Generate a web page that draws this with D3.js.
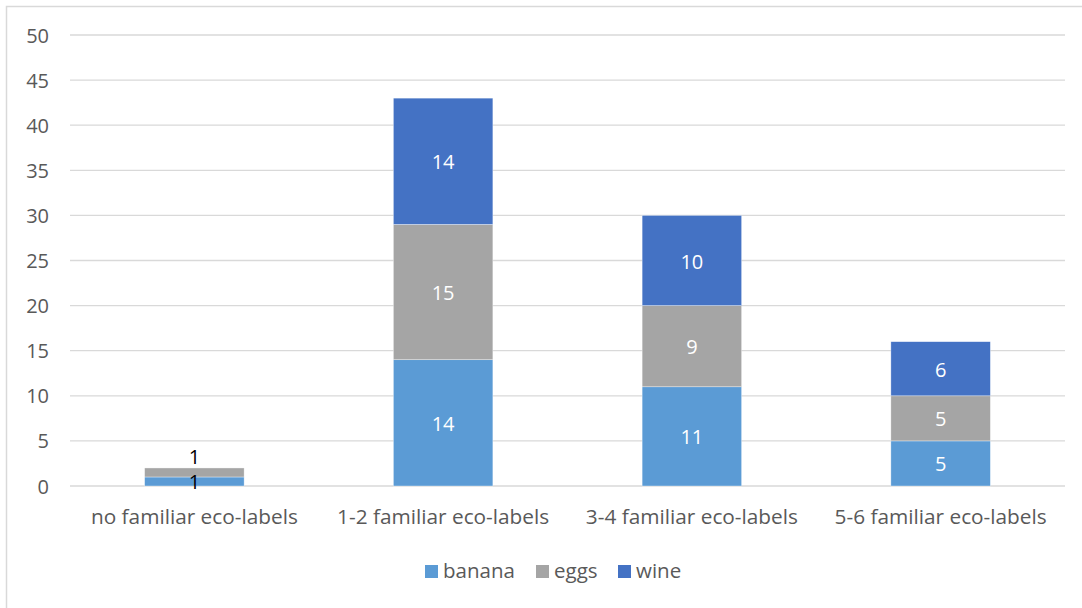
<!DOCTYPE html>
<html>
<head>
<meta charset="utf-8">
<script src="https://cdn.jsdelivr.net/npm/d3@7"></script>
<style>
  html, body { margin: 0; padding: 0; background: #fff; }
  svg { display: block; font-family: "Open Sans", "Noto Sans", sans-serif; }
</style>
</head>
<body>
<svg id="chart" width="1082" height="608"></svg>
<script>
// Familiar eco-labels by product
const categories = ["no familiar eco-labels", "1-2 familiar eco-labels", "3-4 familiar eco-labels", "5-6 familiar eco-labels"];
const seriesNames = ["banana", "eggs", "wine"];
const banana = [1, 14, 11, 5];
const eggs = [1, 15, 9, 5];
const wine = [0, 14, 10, 6];
const yTicks = [0, 5, 10, 15, 20, 25, 30, 35, 40, 45, 50];
const colors = ["#5B9BD5", "#A5A5A5", "#4472C4"];

const svg = d3.select("#chart");
const W = 1082, H = 608;
const plot = { left: 70, right: 1065, top: 35, bottom: 486 };

// Outer chart frame
svg.append("rect")
  .attr("x", 6.5).attr("y", 6.5)
  .attr("width", W + 10).attr("height", H + 10)
  .attr("fill", "#fff").attr("stroke", "#d9d9d9").attr("stroke-width", 1.5);

const rows = categories.map((c, i) => ({ cat: c, banana: banana[i], eggs: eggs[i], wine: wine[i] }));
const stacked = d3.stack().keys(seriesNames)(rows);

const x = d3.scaleBand().domain(categories).range([plot.left, plot.right]).padding(0);
const y = d3.scaleLinear().domain([0, 50]).range([plot.bottom, plot.top]);
const barW = x.bandwidth() * 0.4;

// Gridlines
svg.append("g").selectAll("line").data(yTicks).join("line")
  .attr("x1", plot.left).attr("x2", plot.right)
  .attr("y1", d => y(d)).attr("y2", d => y(d))
  .attr("stroke", "#d9d9d9").attr("stroke-width", 1.3);

// Y axis labels
const yAxis = d3.axisLeft(y).tickValues(yTicks).tickSize(0).tickPadding(0);
const yg = svg.append("g").attr("transform", `translate(${plot.left - 21},0)`).call(yAxis);
yg.select(".domain").remove();
yg.selectAll("text").attr("font-size", 20).attr("fill", "#595959")
  .attr("font-family", "'Open Sans', sans-serif").attr("dy", "0.35em");

// X axis labels
const xAxis = d3.axisBottom(x).tickSize(0).tickPadding(0);
const xg = svg.append("g").attr("transform", `translate(0,${plot.bottom + 31})`).call(xAxis);
xg.select(".domain").remove();
xg.selectAll("text").attr("font-size", 20.8).attr("fill", "#595959")
  .attr("font-family", "'Open Sans', sans-serif").attr("dy", "0.35em");

// Stacked bars
const layers = svg.append("g").selectAll("g").data(stacked).join("g")
  .attr("fill", (d, i) => colors[i]);
layers.selectAll("rect").data(d => d).join("rect")
  .attr("x", d => x(d.data.cat) + (x.bandwidth() - barW) / 2)
  .attr("width", barW)
  .attr("y", d => y(d[1]))
  .attr("height", d => y(d[0]) - y(d[1]))
  .attr("stroke", "#fff").attr("stroke-width", 0.6).attr("stroke-opacity", 0.6);

// Data labels
const labelG = svg.append("g").attr("font-size", 20).attr("text-anchor", "middle")
  .attr("font-family", "'Open Sans', sans-serif");
stacked.forEach((layer, si) => {
  layer.forEach((d, ci) => {
    const v = d[1] - d[0];
    if (v <= 0) return;
    const segH = y(d[0]) - y(d[1]);
    const cx = x(d.data.cat) + x.bandwidth() / 2;
    const small = segH < 22;
    const isTop = !stacked.slice(si + 1).some(l => l[ci][1] - l[ci][0] > 0);
    let cy = (y(d[0]) + y(d[1])) / 2 + 1;
    if (small && isTop) cy = y(d[1]) - 11;
    labelG.append("text")
      .attr("x", cx).attr("y", cy).attr("dy", "0.35em")
      .attr("fill", small ? "#000" : "#fff")
      .text(v);
  });
});

// Legend
const legend = svg.append("g").attr("font-family", "'Open Sans', sans-serif").attr("font-size", 20.5);
const legendX = [425, 536, 618];
seriesNames.forEach((name, i) => {
  const g = legend.append("g").attr("transform", `translate(${legendX[i]},571)`);
  g.append("rect").attr("x", 0).attr("y", -6).attr("width", 13).attr("height", 13).attr("fill", colors[i]);
  g.append("text").attr("x", 18).attr("y", 0).attr("dy", "0.35em").attr("fill", "#595959").text(name);
});
</script>
</body>
</html>
